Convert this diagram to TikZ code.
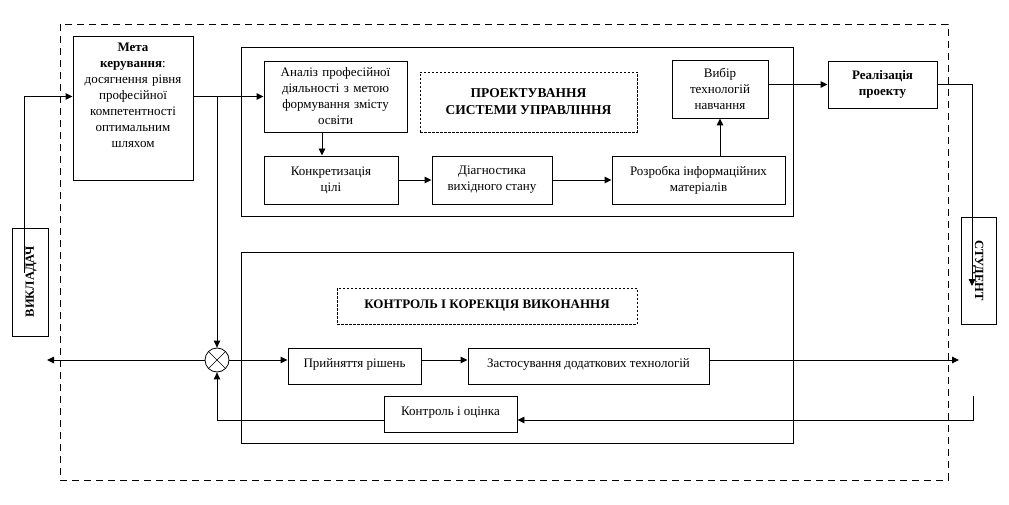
\documentclass[tikz,border=0pt]{standalone}
\usepackage{fontspec}
\setmainfont{Liberation Serif}
\usetikzlibrary{arrows.meta}
\begin{document}
\begin{tikzpicture}[x=1pt,y=-1pt, font=\fontsize{13}{16}\selectfont,
  box/.style={draw, line width=0.95pt, inner sep=0pt, align=center},
  dbox/.style={draw, dash pattern=on 2.5pt off 1.5pt, line width=0.7pt, inner sep=0pt, align=center, font=\fontsize{13.5}{17}\selectfont\bfseries},
  arr/.style={-{Triangle[length=7pt,width=6.5pt]}, line width=0.95pt},
  ln/.style={line width=0.95pt}]
\useasboundingbox (0,0) rectangle (1009,505);
% outer dashed frame
\draw[line width=0.95pt, dash pattern=on 7pt off 5pt] (60,24) rectangle (948,480);
% big frames
\node[box, minimum width=552pt, minimum height=169pt] (top) at (517,131.5) {};
\node[box, minimum width=552pt, minimum height=191pt] (bot) at (517,347.5) {};
% left goal box
\node[box, minimum width=120pt, minimum height=144pt] (meta) at (133,108) {};
\node[anchor=north, inner sep=0pt, text width=118pt, align=center] (metatext) at (133,43)
  {{\bfseries Мета}\\{\bfseries керування}:\\досягнення рівня\\професійної\\компетентності\\оптимальним\\шляхом};
% top boxes
\node[box, minimum width=143pt, minimum height=71pt, text width=140pt] (analiz) at (335.5,96.5)
  {Аналіз професійної\\діяльності з метою\\формування змісту\\освіти};
\node[dbox, minimum width=217pt, minimum height=60pt] (proekt) at (528.5,102)
  {ПРОЕКТУВАННЯ\\СИСТЕМИ УПРАВЛІННЯ};
\node[box, minimum width=96pt, minimum height=58pt] (vybir) at (720,89)
  {Вибір\\технологій\\навчання};
\node[box, minimum width=134pt, minimum height=48pt] (konkr) at (331,180)
  {Конкретизація\\цілі};
\node[box, minimum width=120pt, minimum height=48pt] (diagn) at (492,180)
  {Діагностика\\вихідного стану};
\node[box, minimum width=173pt, minimum height=48pt] (rozr) at (698.5,180)
  {Розробка інформаційних\\матеріалів};
\node[box, minimum width=109pt, minimum height=47pt, font=\fontsize{13}{16}\selectfont\bfseries] (realiz) at (882.5,84.5)
  {Реалізація\\проекту};
% side boxes
\node[box, minimum width=36pt, minimum height=108pt] (vykl) at (30,282) {};
\node[rotate=90, font=\fontsize{12.5}{15}\selectfont\bfseries, inner sep=0pt] (vykltext) at (31,282) {ВИКЛАДАЧ};
\node[box, minimum width=35pt, minimum height=107pt] (stud) at (978.5,270.5) {};
\node[rotate=-90, font=\fontsize{12.5}{15}\selectfont\bfseries, inner sep=0pt] (studtext) at (978,270.5) {СТУДЕНТ};
% bottom boxes
\node[dbox, minimum width=300pt, minimum height=36pt, font=\fontsize{13}{16}\selectfont\bfseries] (kontr) at (487,306)
  {КОНТРОЛЬ І КОРЕКЦІЯ ВИКОНАННЯ};
\node[box, minimum width=133pt, minimum height=36pt] (pryin) at (354.5,366)
  {\raisebox{6pt}{Прийняття рішень}};
\node[box, minimum width=241pt, minimum height=36pt] (zastos) at (588.5,366)
  {\raisebox{6pt}{Застосування додаткових технологій}};
\node[box, minimum width=133pt, minimum height=36pt] (kocin) at (450.5,414)
  {\raisebox{5pt}{Контроль і оцінка}};
% summing junction
\node[draw, circle, line width=0.8pt, minimum size=24pt, inner sep=0pt] (sum) at (217,360) {};
\draw[line width=0.6pt] (sum.north west) -- (sum.south east) (sum.north east) -- (sum.south west);
% helper coordinates
\coordinate (vin) at (24,273);
\coordinate (sout) at (972,286);
\coordinate (lout) at (47,360);
\coordinate (rout) at (959,360);
\coordinate (fin) at (973,396);
\coordinate (fy) at (0,420);
% connectors
\draw[arr] (vin) |- (meta.west |- analiz.center);
\draw[arr] (meta.east |- analiz.center) -- (analiz.west);
\draw[arr] (sum |- analiz.center) -- (sum.north);
\draw[arr] ([xshift=-13.5pt]analiz.south) -- ([xshift=-13.5pt]analiz.south |- konkr.north);
\draw[arr] (konkr) -- (diagn);
\draw[arr] (diagn) -- (rozr);
\draw[arr] (rozr.north -| vybir) -- (vybir.south);
\draw[arr] (vybir.east |- realiz) -- (realiz.west);
\draw[arr] (realiz.east) -| (sout);
\draw[arr] (sum.west) -- (lout);
\draw[arr] (sum.east) -- (pryin.west |- sum);
\draw[arr] (pryin.east |- sum) -- (zastos.west |- sum);
\draw[arr] (zastos.east |- sum) -- (rout);
\draw[arr] (fin) |- (kocin.east |- fy);
\draw[arr] (kocin.west |- fy) -| (sum.south);
\end{tikzpicture}
\end{document}
